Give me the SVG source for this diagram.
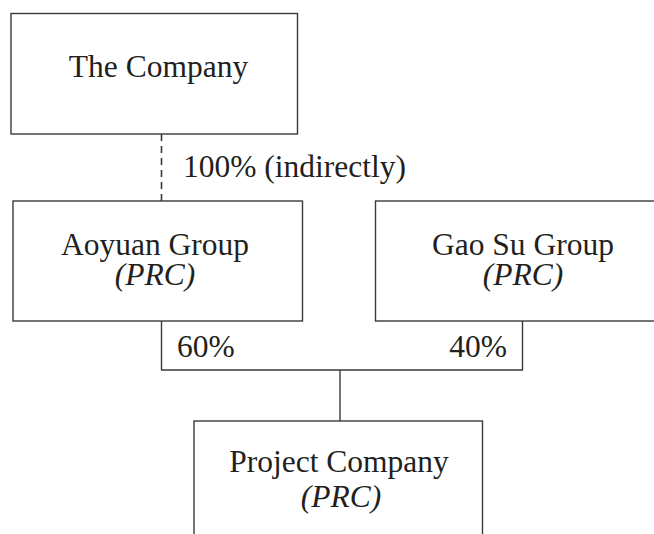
<svg xmlns="http://www.w3.org/2000/svg" width="654" height="534" viewBox="0 0 654 534">
  <style>
    .box { fill: #fff; stroke: #3a3a3a; stroke-width: 1.4; }
    .lbl { font-family: "Liberation Serif", "Times New Roman", serif; font-size: 31.5px; fill: #231f20; }
    .it { font-style: italic; }
    .wire { fill: none; stroke: #3a3a3a; stroke-width: 1.4; }
    .dash { stroke-width: 1.6; stroke-dasharray: 7 5; }
  </style>
  <rect width="654" height="534" fill="#fff"/>

  <!-- ownership connectors -->
  <g id="connectors">
    <line class="wire dash" x1="161.5" y1="134" x2="161.5" y2="201"/>
    <polyline class="wire" points="161.5,321 161.5,370 522.5,370 522.5,321"/>
    <line class="wire" x1="340" y1="370" x2="340" y2="421"/>
    <text class="lbl" x="183" y="177">100% (indirectly)</text>
    <text class="lbl" x="177" y="357">60%</text>
    <text class="lbl" x="507" y="357" text-anchor="end">40%</text>
  </g>

  <g id="the-company">
    <rect class="box" x="11" y="13.5" width="286.5" height="120.5"/>
    <text class="lbl" x="158.5" y="77" text-anchor="middle">The Company</text>
  </g>

  <g id="aoyuan-group">
    <rect class="box" x="13" y="201" width="289.5" height="120"/>
    <text class="lbl" x="155" y="255" text-anchor="middle">Aoyuan Group</text>
    <text class="lbl it" x="155" y="285" text-anchor="middle">(PRC)</text>
  </g>

  <g id="gao-su-group">
    <rect class="box" x="375.5" y="201" width="292" height="120"/>
    <text class="lbl" x="523" y="255" text-anchor="middle">Gao Su Group</text>
    <text class="lbl it" x="523" y="285" text-anchor="middle">(PRC)</text>
  </g>

  <g id="project-company">
    <rect class="box" x="194" y="421" width="288.5" height="130"/>
    <text class="lbl" x="339" y="472" text-anchor="middle">Project Company</text>
    <text class="lbl it" x="341" y="507" text-anchor="middle">(PRC)</text>
  </g>
</svg>
